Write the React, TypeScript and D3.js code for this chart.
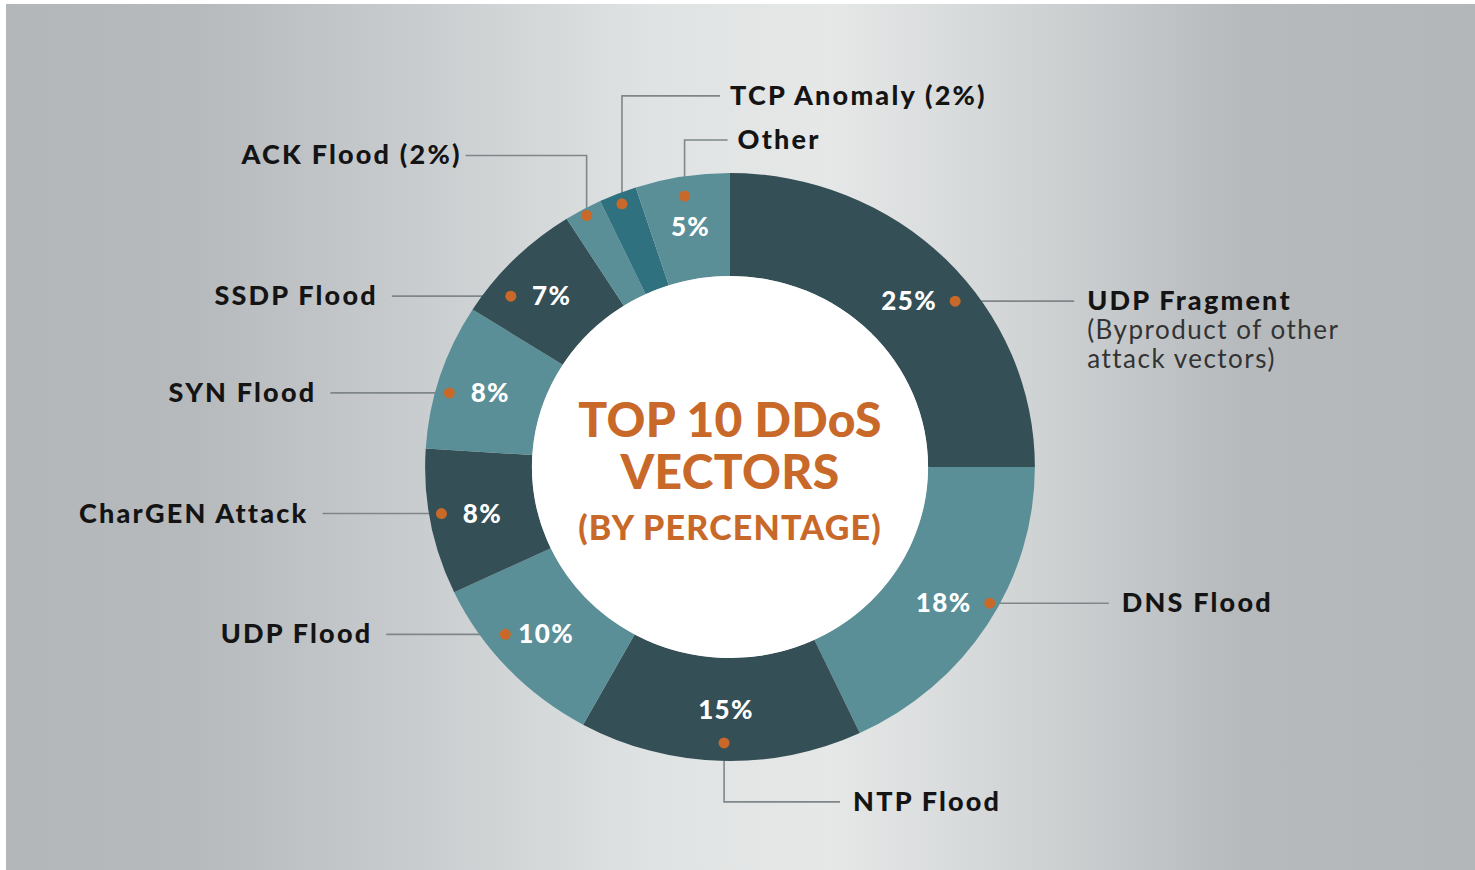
import React from "react";
import * as d3 from "d3";

// ---------- data ----------
const categories = [
  "UDP Fragment",
  "DNS Flood",
  "NTP Flood",
  "UDP Flood",
  "CharGEN Attack",
  "SYN Flood",
  "SSDP Flood",
  "ACK Flood (2%)",
  "TCP Anomaly (2%)",
  "Other",
];
const values = [25, 18, 15, 10, 8, 8, 7, 2, 2, 5];
const percentLabels = ["25%", "18%", "15%", "10%", "8%", "8%", "7%", "", "", "5%"];
const subLabelLines = ["(Byproduct of other", "attack vectors)"];
const titleLines = ["TOP 10 DDoS", "VECTORS", "(BY PERCENTAGE)"];

// ---------- styles / layout ----------
const W = 1475;
const H = 870;
const cx = 730;
const cy = 467;
const sx = 1.037; // horizontal stretch of the original artwork
const rOuter = 294;
const rInner = 191;
const rLabel = 243;

const DARK = "#344f56";
const LIGHT = "#5b8f98";
const TEAL = "#30717f";
const ORANGE = "#c8692a";
const LINE = "#7f8689";
const sliceColors = [DARK, LIGHT, DARK, LIGHT, DARK, LIGHT, DARK, LIGHT, TEAL, LIGHT];

type Kind = "right" | "left" | "below" | "above" | "edgeLeft" | "edgeRight";
const calloutKinds: Kind[] = ["right", "right", "below", "left", "left", "left", "left", "edgeLeft", "edgeRight", "above"];

const FONT = "Lato, 'Open Sans', sans-serif";

export default function App() {
  const pie = d3.pie<number>().sort(null).value((d) => d)(values);
  const arc = d3.arc<d3.PieArcDatum<number>>().innerRadius(rInner).outerRadius(rOuter);

  const polar = (a: number, r: number): [number, number] => [
    cx + sx * r * Math.sin(a),
    cy - r * Math.cos(a),
  ];

  const callouts = pie.map((p, i) => {
    const mid = (p.startAngle + p.endAngle) / 2;
    let [px, py] = polar(mid, rLabel);
    const kind = calloutKinds[i];
    let dot: [number, number];
    let path: [number, number][];
    let label: { x: number; y: number; anchor: "start" | "end" };
    if (kind === "right") {
      py += 6;
      px += 1;
      dot = [px + 46, py];
      path = [dot, [dot[0] + 119, dot[1]]];
      label = { x: dot[0] + 132, y: dot[1], anchor: "start" };
    } else if (kind === "left") {
      py += 1;
      dot = [px - 41, py];
      path = [dot, [dot[0] - 119, dot[1]]];
      label = { x: dot[0] - 133, y: dot[1], anchor: "end" };
    } else if (kind === "below") {
      px += 4;
      dot = [px - 2, py + 33];
      path = [dot, [dot[0], dot[1] + 59], [dot[0] + 116, dot[1] + 59]];
      label = { x: dot[0] + 129, y: dot[1] + 59, anchor: "start" };
    } else if (kind === "above") {
      dot = [px - 6, py - 31];
      path = [dot, [dot[0], dot[1] - 56], [dot[0] + 43, dot[1] - 56]];
      label = { x: dot[0] + 53, y: dot[1] - 56, anchor: "start" };
    } else if (kind === "edgeRight") {
      dot = polar(mid, 283);
      path = [dot, [dot[0], dot[1] - 108], [dot[0] + 98, dot[1] - 108]];
      label = { x: dot[0] + 108, y: dot[1] - 108, anchor: "start" };
    } else {
      dot = polar(mid, 287);
      path = [dot, [dot[0], dot[1] - 60], [dot[0] - 121, dot[1] - 60]];
      label = { x: dot[0] - 125, y: dot[1] - 60, anchor: "end" };
    }
    return { p, i, px, py, dot, path, label };
  });

  const line = d3.line();

  return (
    <svg
      width={W}
      height={H}
      style={{ position: "absolute", left: 0, top: 0, display: "block" }}
      fontFamily={FONT}
    >
      <defs>
        <linearGradient id="bg" x1="0" x2="1" y1="0" y2="0">
          <stop offset="0%" stopColor="#b3b7ba" />
          <stop offset="13%" stopColor="#b6babd" />
          <stop offset="27%" stopColor="#c8cbcd" />
          <stop offset="44%" stopColor="#e0e3e3" />
          <stop offset="56%" stopColor="#e6e8e8" />
          <stop offset="70%" stopColor="#d0d3d4" />
          <stop offset="84%" stopColor="#b6babd" />
          <stop offset="100%" stopColor="#b3b7ba" />
        </linearGradient>
      </defs>
      <rect x={0} y={0} width={W} height={H} fill="#ffffff" />
      <rect x={6} y={4} width={W - 6} height={H - 4} fill="url(#bg)" />

      {/* leader lines (behind donut) */}
      {callouts.map((c) => (
        <path key={"l" + c.i} d={line(c.path) || ""} fill="none" stroke={LINE} strokeWidth={1.6} />
      ))}

      {/* donut */}
      <g transform={`translate(${cx},${cy}) scale(${sx},1)`}>
        {pie.map((p, i) => (
          <path key={"s" + i} d={arc(p) || ""} fill={sliceColors[i]} />
        ))}
        <circle r={rInner} fill="#ffffff" />
      </g>

      {/* percentages */}
      {callouts.map((c) =>
        percentLabels[c.i] ? (
          <text
            key={"p" + c.i}
            x={c.px}
            y={c.py + 9}
            textAnchor="middle"
            fill="#ffffff"
            fontWeight={900}
            fontSize={26}
            letterSpacing={1.4}
          >
            {percentLabels[c.i]}
          </text>
        ) : null
      )}

      {/* dots */}
      {callouts.map((c) => (
        <circle key={"d" + c.i} cx={c.dot[0]} cy={c.dot[1]} r={5.5} fill={ORANGE} />
      ))}

      {/* category labels */}
      {callouts.map((c) => (
        <text
          key={"t" + c.i}
          x={c.label.x}
          y={c.label.y + 9}
          textAnchor={c.label.anchor}
          fill="#141414"
          fontWeight={900}
          fontSize={27}
          letterSpacing={2.2}
        >
          {categories[c.i]}
        </text>
      ))}
      {subLabelLines.map((s, k) => (
        <text
          key={"sub" + k}
          x={callouts[0].label.x}
          y={callouts[0].label.y + 9 + 29 * (k + 1)}
          fill="#333333"
          fontWeight={400}
          fontSize={26}
          letterSpacing={1.5}
        >
          {s}
        </text>
      ))}

      {/* title */}
      {titleLines.map((t, k) => (
        <text
          key={"title" + k}
          x={cx}
          y={[437, 489, 540][k]}
          textAnchor="middle"
          fill={ORANGE}
          fontWeight={900}
          fontSize={k < 2 ? 48 : 34}
          letterSpacing={k < 2 ? 0.3 : 1.2}
        >
          {t}
        </text>
      ))}
    </svg>
  );
}
